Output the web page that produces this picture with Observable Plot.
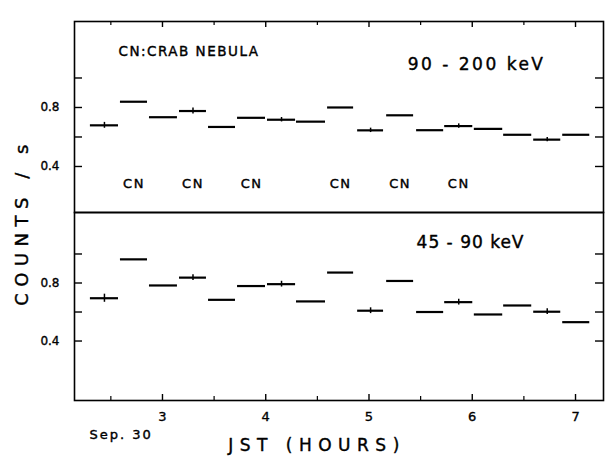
<!DOCTYPE html>
<html><head><meta charset="utf-8">
<script src="https://cdn.jsdelivr.net/npm/d3@7"></script>
<script src="https://cdn.jsdelivr.net/npm/@observablehq/plot@0.6"></script>
<style>
body{margin:0;background:#fff;}
#wrap{position:relative;width:611px;height:464px;font-family:"DejaVu Sans",sans-serif;color:#000;}
#top,#bottom{position:absolute;left:0;}
#top{top:0;}
#bottom{top:212px;}
#ylab{position:absolute;left:21px;top:222px;transform:translate(-50%,-50%) rotate(-90deg);font-size:18px;letter-spacing:6.5px;white-space:nowrap;-webkit-text-stroke:0.4px #000;}
</style></head>
<body><div id="wrap"><div id="top"></div><div id="bottom"></div><div id="ylab">COUNTS / s</div></div>
<script>
// time bins (JST hours)
const binStart = [2.302, 2.593, 2.874, 3.165, 3.446, 3.727, 4.017, 4.298, 4.599, 4.890, 5.171, 5.461, 5.733, 6.020, 6.304, 6.595, 6.876];
const binEnd   = [2.574, 2.855, 3.145, 3.426, 3.707, 3.998, 4.289, 4.579, 4.851, 5.141, 5.432, 5.723, 6.005, 6.295, 6.576, 6.857, 7.138];
// counts/s, 90-200 keV
const high = [0.679, 0.839, 0.734, 0.776, 0.668, 0.730, 0.717, 0.704, 0.800, 0.645, 0.747, 0.646, 0.674, 0.655, 0.615, 0.582, 0.615];
const highErr = [0.02, 0, 0, 0.02, 0, 0, 0.015, 0, 0, 0.015, 0, 0, 0.015, 0, 0, 0.015, 0];
// counts/s, 45-90 keV
const low = [0.695, 0.963, 0.783, 0.837, 0.684, 0.779, 0.792, 0.673, 0.872, 0.609, 0.814, 0.600, 0.668, 0.583, 0.645, 0.602, 0.530];
const lowErr = [0.028, 0, 0, 0.02, 0, 0, 0.02, 0, 0, 0.02, 0, 0, 0.02, 0, 0, 0.02, 0];
// bins with Crab Nebula in field of view
const cnBins = [1, 3, 5, 8, 10, 12];
// axis ticks
const xMajor = [3, 4, 5, 6, 7];
const xMinor = [2.5, 3.5, 4.5, 5.5, 6.5];
const xLabels = ["3", "4", "5", "6", "7"];
const yTicks = [0.4, 0.6, 0.8, 1.0];
const yLabels = [0.4, 0.8];

const idx = d3.range(binStart.length);
const mid = i => (binStart[i] + binEnd[i]) / 2;
const W = 611, ML = 74, MR = 8;
const PW = W - ML - MR;
const xDomain = [2.148, 7.271];
const st = {fontFamily: "DejaVu Sans, sans-serif", color: "black", background: "transparent", overflow: "visible"};
const ink = {fill: "black", stroke: "black", strokeWidth: 0.4};

function frameMarks(PH, edgeTicks) {
  return [
    Plot.frame({stroke: "black", strokeWidth: 1.6}),
    Plot.tickY(yTicks, {y: d => d, insetRight: PW - 8, strokeWidth: 1.4}),
    Plot.tickY(yTicks, {y: d => d, insetLeft: PW - 8, strokeWidth: 1.4}),
    Plot.axisY(yLabels, {tickSize: 0, tickPadding: 15, tickFormat: d3.format(".1f"), fontSize: 12, label: null}),
    edgeTicks === "top"
      ? Plot.tickX(xMajor, {x: d => d, insetBottom: PH - 6, strokeWidth: 1.4})
      : Plot.tickX(xMajor, {x: d => d, insetTop: PH - 6, strokeWidth: 1.4}),
    edgeTicks === "top"
      ? Plot.tickX(xMinor, {x: d => d, insetBottom: PH - 4, strokeWidth: 1.2})
      : Plot.tickX(xMinor, {x: d => d, insetTop: PH - 4, strokeWidth: 1.2})
  ];
}

function dataMarks(vals, errs) {
  return [
    Plot.ruleY(idx, {x1: i => binStart[i], x2: i => binEnd[i], y: i => vals[i], stroke: "black", strokeWidth: 2.2}),
    Plot.ruleX(idx.filter(i => errs[i] > 0), {x: mid, y1: i => vals[i] - errs[i], y2: i => vals[i] + errs[i], stroke: "black", strokeWidth: 1.5})
  ];
}

const spacing = {"CN": 1.5, "CN:CRAB NEBULA": 1.5, "90 - 200 keV": 2.5, "45 - 90 keV": 1, "Sep. 30": 2, "JST (HOURS)": 6.5};
function finish(svg) {
  d3.select(svg).selectAll("text").each(function() {
    const t = this.textContent;
    if (spacing[t] != null) d3.select(this).attr("letter-spacing", spacing[t]);
  });
  d3.select(svg).selectAll("g[aria-label='y-axis tick label'] text, g[aria-label='x-axis tick label'] text")
    .attr("stroke", "black").attr("stroke-width", 0.35);
  return svg;
}

const topH = 212, topMT = 21;
const topPlot = Plot.plot({
  width: W, height: topH, marginTop: topMT, marginBottom: 0, marginLeft: ML, marginRight: MR,
  x: {domain: xDomain, axis: null},
  y: {domain: [0.088, 1.383]},
  style: st,
  marks: [
    ...frameMarks(topH - topMT, "top"),
    ...dataMarks(high, highErr),
    Plot.text(cnBins, {x: mid, text: () => "CN", frameAnchor: "bottom", dy: -25, fontSize: 13, ...ink}),
    Plot.text(["CN:CRAB NEBULA"], {frameAnchor: "top-left", dx: 44, dy: 25, textAnchor: "start", fontSize: 13.5, ...ink}),
    Plot.text(["90 - 200 keV"], {frameAnchor: "top-right", dx: -58, dy: 36, textAnchor: "end", fontSize: 17, ...ink})
  ]
});
document.getElementById("top").appendChild(finish(topPlot));

const botH = 252, botMB = 64;
const botPlot = Plot.plot({
  width: W, height: botH, marginTop: 0, marginBottom: botMB, marginLeft: ML, marginRight: MR,
  x: {domain: xDomain},
  y: {domain: [-0.01, 1.286]},
  style: st,
  marks: [
    ...frameMarks(botH - botMB, "bottom"),
    ...dataMarks(low, lowErr),
    Plot.axisX(xMajor, {tickSize: 0, tickPadding: 11, tickFormat: (d, i) => xLabels[i], fontSize: 13, label: null}),
    Plot.text(["45 - 90 keV"], {frameAnchor: "top-right", dx: -79, dy: 23, textAnchor: "end", fontSize: 17, ...ink}),
    Plot.text(["Sep. 30"], {frameAnchor: "bottom-left", dx: 15, dy: 38, textAnchor: "start", fontSize: 13, ...ink}),
    Plot.text(["JST (HOURS)"], {frameAnchor: "bottom", dx: -22, dy: 50, fontSize: 17, ...ink})
  ]
});
document.getElementById("bottom").appendChild(finish(botPlot));
</script>
</body></html>
